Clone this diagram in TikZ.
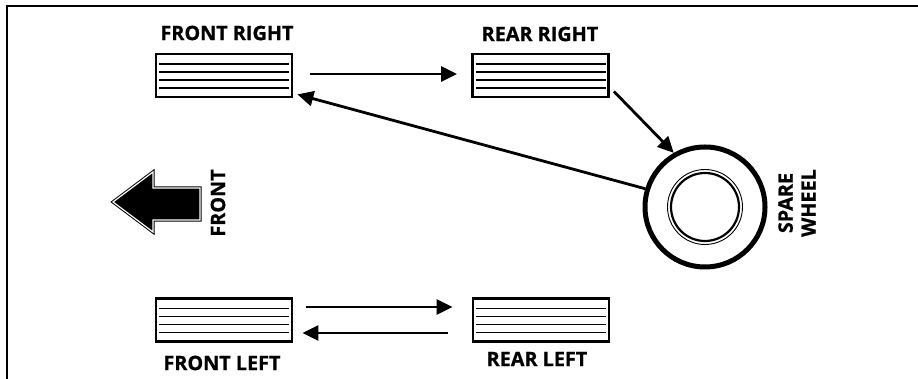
\documentclass[tikz,border=0pt]{standalone}
\usepackage{fontspec}
\setmainfont{Open Sans}[BoldFeatures={FakeBold=0.8}]
\usetikzlibrary{arrows.meta,positioning,calc}

\tikzset{
  tyre/.style={draw, line width=2.8pt, minimum width=136pt, minimum height=43pt, inner sep=0pt,
    path picture={\foreach \k in {10,18,26,34}
      \draw[line width=1.3pt] ([xshift=3pt,yshift=-\k pt]path picture bounding box.north west)
        -- ([xshift=-3pt,yshift=-\k pt]path picture bounding box.north east);}},
  tag/.style={font=\bfseries\fontsize{19.8}{22}\selectfont, inner sep=0pt},
  move/.style={-{Triangle[length=16pt,width=15pt]}, line width=2.8pt}
}

\begin{document}
\begin{tikzpicture}[x=1pt,y=1pt]
    \useasboundingbox (0,0) rectangle (918,379);

    % Frame
    \draw[line width=2.8pt] (7,0) -- (7,373) -- (918,373);

    % Tyres
    \node[tyre] (fr) at (224,303.5) {};
    \node[tyre] (rr) at (540.5,303.5) {};
    \node[tyre] (fl) at (224,59) {};
    \node[tyre] (rl) at (541,59) {};

    % Tyre labels
    \node[tag] (frtag) at (227,346) {FRONT RIGHT};
    \node[tag] (rrtag) at (540,345) {REAR RIGHT};
    \node[tag] (fltag) at (222,16) {FRONT LEFT};
    \node[tag] (rltag) at (537,20) {REAR LEFT};

    % Spare wheel
    \node[circle, draw, line width=5pt, minimum size=120pt] (spare) at (705,172) {};
    \draw[line width=0.9pt] (spare.center) circle[radius=37.5];
    \draw[line width=2.2pt] (spare.center) circle[radius=34];
    \node[tag, rotate=90, align=center] (sparetag) at (797,176) {SPARE\\[1pt]WHEEL};

    % Direction of travel
    \draw[fill=black, double=white, double distance=1.2pt, line width=1pt]
        (113,177) -- (153,207) -- (153,191) -- (200,191) -- (200,159) -- (153,159) -- (153,147) -- cycle;
    \node[tag, rotate=90] (fronttag) at (218,176) {FRONT};

    % Rotation
    \draw[move] ([xshift=17pt,yshift=1.5pt]fr.east) -- ([xshift=-14pt,yshift=1.5pt]rr.west);
    \draw[move] ($(rr.south east)+(4,7)$) -- (spare.120);
    \draw[move] (spare.163) -- ($(fr.south east)+(4,4)$);
    \draw[move] ([xshift=13pt,yshift=13pt]fl.east) -- ([xshift=-19pt,yshift=13pt]rl.west);
    \draw[move] ([xshift=-24pt,yshift=-13pt]rl.west) -- ([xshift=9pt,yshift=-13pt]fl.east);
\end{tikzpicture}
\end{document}
